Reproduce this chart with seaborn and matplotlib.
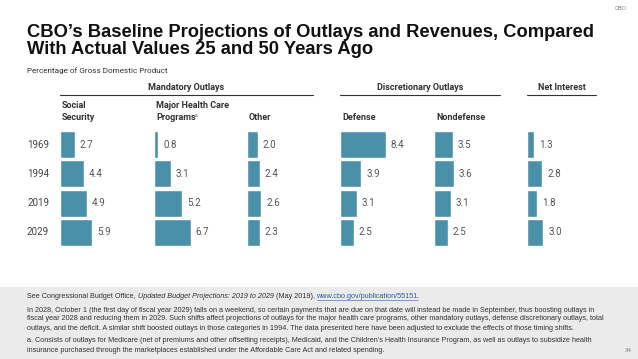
import numpy as np
import pandas as pd
import matplotlib.pyplot as plt
import seaborn as sns
from matplotlib.lines import Line2D
from matplotlib.patches import Rectangle

# Data (percentage of GDP)
years = ["1969", "1994", "2019", "2029"]
social_security = [2.7, 4.4, 4.9, 5.9]
health_care = [0.8, 3.1, 5.2, 6.7]
other_mandatory = [2.0, 2.4, 2.6, 2.3]
defense = [8.4, 3.9, 3.1, 2.5]
nondefense = [3.5, 3.6, 3.1, 2.5]
net_interest = [1.3, 2.8, 1.8, 3.0]

panel_titles = [["Social", "Security"], ["Major Health Care", "Programs"], ["", "Other"],
                ["", "Defense"], ["", "Nondefense"], ["", ""]]
panel_values = [social_security, health_care, other_mandatory,
                defense, nondefense, net_interest]

BAR_COLOR = "#4b90a9"
W, H = 638, 359

sns.set_theme(style="white")
plt.rcParams["font.family"] = ["Roboto", "DejaVu Sans"]

fig = plt.figure(figsize=(W / 100, H / 100), dpi=100)
fig.patch.set_facecolor("white")


def fx(x):
    return x / W


def fy(y):
    return 1 - y / H


# Footer band
fig.add_artist(Rectangle((0, 0), 1, fy(287), transform=fig.transFigure,
                         facecolor="#ebebeb", edgecolor="none", zorder=0))

# Title block
title_lines = [(37, "CBO’s Baseline Projections of Outlays and Revenues, Compared"),
               (54, "With Actual Values 25 and 50 Years Ago")]
for y, line in title_lines:
    fig.text(fx(27), fy(y), line, ha="left", va="baseline", fontsize=13.2,
             fontweight="bold", family="Liberation Sans", color="#111111")
fig.text(fx(621), fy(8), "CBO", ha="center", va="center", fontsize=4.5, color="#888888")
fig.text(fx(27), fy(71), "Percentage of Gross Domestic Product", ha="left", va="center",
         fontsize=5.85, color="#333333")

# Bar panels
lefts = [60, 154, 247, 340, 434, 527]
px_per_unit = 5.45
ax_w = 85
top, bottom = 130, 247
for left, title, vals in zip(lefts, panel_titles, panel_values):
    ax = fig.add_axes([fx(left), fy(bottom), fx(ax_w), (bottom - top) / H])
    df = pd.DataFrame({"year": years, "value": vals})
    sns.barplot(data=df, x="value", y="year", color=BAR_COLOR, width=0.92,
                saturation=1, ax=ax)
    ax.set_xlim(0, ax_w / px_per_unit)
    ax.set_ylim(3.5, -0.5)
    ax.bar_label(ax.containers[0], fmt="%.1f", padding=3.5, fontsize=7,
                 color="#555555")
    ax.axis("off")
    for y, line in zip([106, 117], title):
        if line:
            fig.text(fx(left + 2), fy(y), line, ha="left", va="center",
                     fontsize=6.5, fontweight="bold", color="#333333")

# footnote marker after "Programs"
fig.text(fx(194.5), fy(115), "a", ha="left", va="center", fontsize=3.6, color="#555555")

# Year labels
for i, yr in enumerate(years):
    yc = top + (bottom - top) * (i + 0.5) / 4
    fig.text(fx(49), fy(yc), yr, ha="right", va="center", fontsize=7, color="#444444")

# Group headers with rules
groups = [("Mandatory Outlays", 60, 313), ("Discretionary Outlays", 340, 500),
          ("Net Interest", 527, 596)]
for name, x0, x1 in groups:
    fig.text(fx((x0 + x1) / 2), fy(87), name, ha="center", va="center",
             fontsize=6.5, fontweight="bold", color="#333333")
    fig.add_artist(Line2D([fx(x0), fx(x1)], [fy(95), fy(95)], color="#333333",
                          lw=0.8, transform=fig.transFigure))

# Footer notes
fig.canvas.draw()
renderer = fig.canvas.get_renderer()


def pieces(x, y, parts, size=5.2):
    for text, kw, underline, nudge in parts:
        x += nudge
        opts = {"color": "#333333", **kw}
        t = fig.text(fx(x), fy(y), text, ha="left", va="center", fontsize=size,
                     family="Liberation Sans", **opts)
        bb = t.get_window_extent(renderer)
        if underline:
            fig.add_artist(Line2D([fx(x), fx(x + bb.width)], [fy(y + 3), fy(y + 3)],
                                  color=opts["color"], lw=0.4,
                                  transform=fig.transFigure))
        x += bb.width


pieces(27, 297, [("See Congressional Budget Office, ", {}, False, 0),
                 ("Updated Budget Projections: 2019 to 2029", {"style": "italic"}, False, 0),
                 (" (May 2019), ", {}, False, 0),
                 ("www.cbo.gov/publication/55151", {"color": "#2a5db0"}, True, 0),
                 (".", {}, False, -1.5)])
foot_lines = [
    (310, "In 2028, October 1 (the first day of fiscal year 2029) falls on a weekend, so certain payments that are due on that date will instead be made in September, thus boosting outlays in"),
    (319, "fiscal year 2028 and reducing them in 2029. Such shifts affect projections of outlays for the major health care programs, other mandatory outlays, defense discretionary outlays, total"),
    (328, "outlays, and the deficit. A similar shift boosted outlays in those categories in 1994. The data presented here have been adjusted to exclude the effects of those timing shifts."),
    (341, "a. Consists of outlays for Medicare (net of premiums and other offsetting receipts), Medicaid, and the Children’s Health Insurance Program, as well as outlays to subsidize health"),
    (350, "insurance purchased through the marketplaces established under the Affordable Care Act and related spending."),
]
for y, line in foot_lines:
    fig.text(fx(27), fy(y), line, ha="left", va="center", fontsize=5.2,
             family="Liberation Sans", color="#333333")
fig.text(fx(628), fy(350), "34", ha="center", va="center", fontsize=4.5, color="#888888")

fig.savefig("out.png", dpi=100)
